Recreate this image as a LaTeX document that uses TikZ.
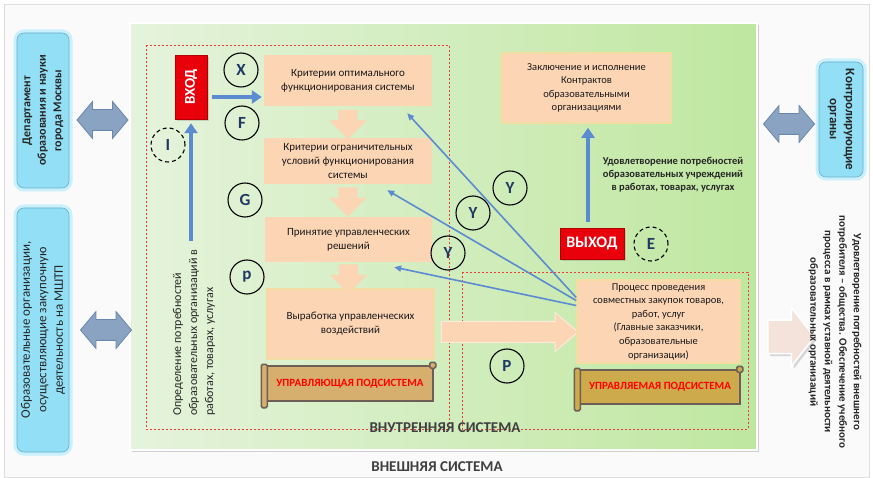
\documentclass[tikz,border=0pt]{standalone}
\usepackage{fontspec}
\setmainfont{Carlito}
\usetikzlibrary{positioning,calc,shapes.arrows,shadows,arrows.meta}

\definecolor{bggrey}{HTML}{FAFAFA}
\definecolor{bordgrey}{HTML}{DDDDDD}
\definecolor{cyanfill}{HTML}{93DFF5}
\definecolor{cyanline}{HTML}{6BB0C8}
\definecolor{cyanglow}{HTML}{C9F0FB}
\definecolor{peach}{HTML}{FCD5B5}
\definecolor{cream}{HTML}{F3DDA2}
\definecolor{redbox}{HTML}{E8000B}
\definecolor{navy}{HTML}{1F3864}
\definecolor{arrblue}{HTML}{5B8BD1}
\definecolor{dblfill}{HTML}{8AA3C2}
\definecolor{dblline}{HTML}{6A86AA}
\definecolor{scrollA}{HTML}{D6AE6E}
\definecolor{scrollB}{HTML}{CDAA4C}
\definecolor{scrolline}{HTML}{6E5E58}
\definecolor{panelL}{HTML}{E5F3DC}
\definecolor{panelR}{HTML}{BFE7A0}
\definecolor{lightpeach}{HTML}{F4E3DA}
\definecolor{labgrey}{HTML}{404040}
\definecolor{dashred}{HTML}{F03A3A}

\tikzset{
  box/.style={fill=peach, align=center, inner sep=2pt, text=black!90,
    font=\fontsize{11}{14}\selectfont},
  framed/.style={draw=cream, line width=1.6pt},
  cyanbox/.style={fill=cyanfill, draw=cyanline, line width=0.6pt, rounded corners=7pt,
    align=center, text=black!85, preaction={draw=cyanglow, line width=7pt}},
  redsign/.style={fill=redbox, draw=red!70!black, line width=0.5pt, text=white,
    inner sep=0pt, drop shadow={opacity=0.3}},
  letter/.style={circle, draw=black, line width=1.1pt, minimum size=34pt, inner sep=0pt,
    text=navy, font=\fontsize{17}{17}\selectfont\bfseries},
  dletter/.style={letter, dash pattern=on 4pt off 3pt},
  scroll/.style={draw=scrolline, line width=1.5pt, text=red,
    font=\fontsize{11}{11}\selectfont\bfseries, inner sep=0pt},
  roll/.style={draw=scrolline, line width=1.5pt, rounded corners=1.5pt},
  blockdown/.style={single arrow, fill=peach, inner sep=9.5pt, single arrow head extend=9pt,
    shape border rotate=270, minimum height=27pt},
  dblarr/.style={double arrow, fill=dblfill, draw=dblline, line width=0.8pt, inner sep=10pt,
    double arrow head extend=8pt, double arrow tip angle=100, minimum height=51pt},
  thickarr/.style={draw=arrblue, line width=4pt, -{Triangle[length=10pt,width=13pt]}},
  thinarr/.style={draw=arrblue, line width=1.6pt, -{Triangle[length=7pt,width=6pt]}},
  reddash/.style={draw=dashred, line width=0.6pt, dash pattern=on 2pt off 2pt},
  syslabel/.style={text=labgrey, font=\fontsize{15}{15}\selectfont\bfseries}
}

\begin{document}
\begin{tikzpicture}[x=1pt,y=-1pt]
  \useasboundingbox (0,0) rectangle (873,478);
  % background
  \draw[draw=bordgrey, fill=bggrey] (4,4) rectangle (869,477);
  % green panel
  \node[left color=panelL, right color=panelR, draw=white, line width=2pt,
    drop shadow={opacity=0.35}, minimum width=627pt, minimum height=427pt,
    inner sep=0pt] (panel) at (443.5,236.5) {};
  % dashed subsystems
  \draw[reddash] (146,45) rectangle (449,429);
  \draw[reddash] (462,272) rectangle (748,429);

  % outer blocks
  \node[cyanbox, rotate=90, minimum width=155pt, minimum height=52pt,
    font=\fontsize{12}{15.5}\selectfont\bfseries] (dep) at (43,110.5)
    {Департамент\\образования и науки\\города Москвы};
  \node[cyanbox, rotate=90, minimum width=244pt, minimum height=52pt,
    font=\fontsize{13}{16.5}\selectfont] (obr) at (43,330)
    {Образовательные организации,\\осуществляющие закупочную\\деятельность на МШТП};
  \node[cyanbox, rotate=-90, minimum width=115pt, minimum height=44pt,
    font=\fontsize{13}{16}\selectfont\bfseries] (kontr) at (841,119.5)
    {Контролирующие\\органы};
  \node[dblarr] (d1) at (102.5,120) {};
  \node[dblarr] (d2) at (106,330) {};
  \node[dblarr] (d3) at (789,124) {};

  % control subsystem
  \node[box, minimum width=168pt, minimum height=51pt] (kopt) at (348,80.5)
    {Критерии оптимального\\функционирования системы};
  \node[box, minimum width=168pt, minimum height=46pt] (korg) at (348,161)
    {Критерии ограничительных\\условий функционирования\\системы};
  \node[box, minimum width=167pt, minimum height=45pt] (prin) at (348.5,239.5)
    {Принятие управленческих\\решений};
  \node[box, framed, minimum width=167pt, minimum height=70pt] (vyr) at (350.5,324)
    {Выработка управленческих\\воздействий};
  \node[blockdown] (a1) at ($(kopt.south)+(0,13.5)$) {};
  \node[blockdown] (a2) at ($(korg.south)+(0,13)$) {};
  \node[blockdown, minimum height=24pt] (a3) at ($(prin.south)+(0,12)$) {};
  \node[single arrow, fill=peach, draw=white!50!peach, line width=1pt, inner sep=10pt,
    single arrow head extend=9pt, single arrow tip angle=80, minimum height=137pt]
    (a4) at (503.5,332) {};

  % managed process and feedback lines
  \node[box, framed, minimum width=163pt, minimum height=83pt,
    font=\fontsize{10.5}{13.6}\selectfont] (proc) at (658.5,321.5)
    {Процесс проведения\\совместных закупок товаров,\\работ, услуг\\(Главные заказчики,\\образовательные\\организации)};
  \draw[thinarr] ($(proc.west)+(0,-24)$) -- ($(kopt.south east)+(-25,7)$);
  \draw[thinarr] ($(proc.west)+(0,-21)$) -- ($(korg.south east)+(-45,6)$);
  \draw[thinarr] ($(proc.west)+(0,-16)$) -- ($(prin.south east)+(-38,5)$);

  % scrolls
  \node[scroll, fill=scrollA, minimum width=166pt, minimum height=35pt] (upr) at (350,383.5)
    {УПРАВЛЯЮЩАЯ ПОДСИСТЕМА};
  \draw[roll, fill=scrollA] ($(upr.north west)+(-5,-1)$) rectangle ($(upr.south west)+(1,6)$);
  \draw[roll, fill=scrollA] ($(upr.north east)+(-4,-3)$) rectangle ($(upr.north east)+(2,3)$);
  \node[scroll, fill=scrollB, minimum width=160pt, minimum height=34pt] (uprm) at (660,387)
    {УПРАВЛЯЕМАЯ ПОДСИСТЕМА};
  \draw[roll, fill=scrollB] ($(uprm.north west)+(-5,-1)$) rectangle ($(uprm.south west)+(1,6)$);
  \draw[roll, fill=scrollB] ($(uprm.north east)+(-4,-3)$) rectangle ($(uprm.north east)+(2,3)$);

  % input
  \node[redsign, rotate=90, minimum width=64pt, minimum height=32pt,
    font=\fontsize{15}{15}\selectfont\bfseries] (vhod) at (191,87) {ВХОД};
  \node[rotate=90, anchor=west, inner sep=0pt, align=left, text=black!85,
    font=\fontsize{12}{16}\selectfont] (opr) at (194,416)
    {Определение потребностей\\образовательных организаций в\\работах, товарах, услугах};
  \draw[thickarr] ($(opr.east)+(-3,-8)$) -- ($(vhod.west)+(0,4)$);
  \draw[thickarr] ($(vhod.south)+(5,10)$) -- ($(kopt.west)+(-2,16.5)$);

  % output
  \node[box, framed, minimum width=169pt, minimum height=70pt,
    font=\fontsize{10.5}{13.3}\selectfont] (zakl) at (586.5,88)
    {Заключение и исполнение\\Контрактов\\образовательными\\организациями};
  \node[redsign, minimum width=64pt, minimum height=31pt,
    font=\fontsize{16}{16}\selectfont\bfseries] (vyhod) at (592,243.5) {ВЫХОД};
  \draw[thickarr] ($(vyhod.north)+(-4,-6)$) -- ($(zakl.south)+(1.5,4)$);
  \node[align=center, text=black!85, font=\fontsize{10.5}{13}\selectfont\bfseries]
    (udov) at (673,175)
    {Удовлетворение потребностей\\образовательных учреждений\\в работах, товарах, услугах};

  % letters
  \node[letter] (cX) at (241,70) {X};
  \node[letter] (cF) at (242,123) {F};
  \node[dletter] (cI) at (168,145) {I};
  \node[letter] (cG) at (245,200) {G};
  \node[letter] (cp) at (247,277) {p};
  \node[letter] (cY1) at (510,188) {Y};
  \node[letter] (cY2) at (473,213) {Y};
  \node[letter] (cY3) at (448,253) {Y};
  \node[letter] (cP) at (507,366) {P};
  \node[dletter] (cE) at (651,244) {E};

  % external consumer
  \node[single arrow, fill=lightpeach, draw=white, line width=1.5pt, inner sep=16pt,
    single arrow head extend=12.5pt, single arrow tip angle=104, minimum height=41pt,
    drop shadow={opacity=0.3}] (a5) at (784.5,337) {};
  \node[rotate=-90, align=center, text=black!85, font=\fontsize{11}{14.5}\selectfont\bfseries]
    (vnesh) at (835,332)
    {Удовлетворение потребностей внешнего\\потребителя – общества. Обеспечение учебного\\процесса в рамках уставной деятельности\\образовательных организаций};

  % system labels
  \node[syslabel] (vnutr) at (445,428) {ВНУТРЕННЯЯ СИСТЕМА};
  \node[syslabel] (vneshsys) at (437,467) {ВНЕШНЯЯ СИСТЕМА};
\end{tikzpicture}
\end{document}
